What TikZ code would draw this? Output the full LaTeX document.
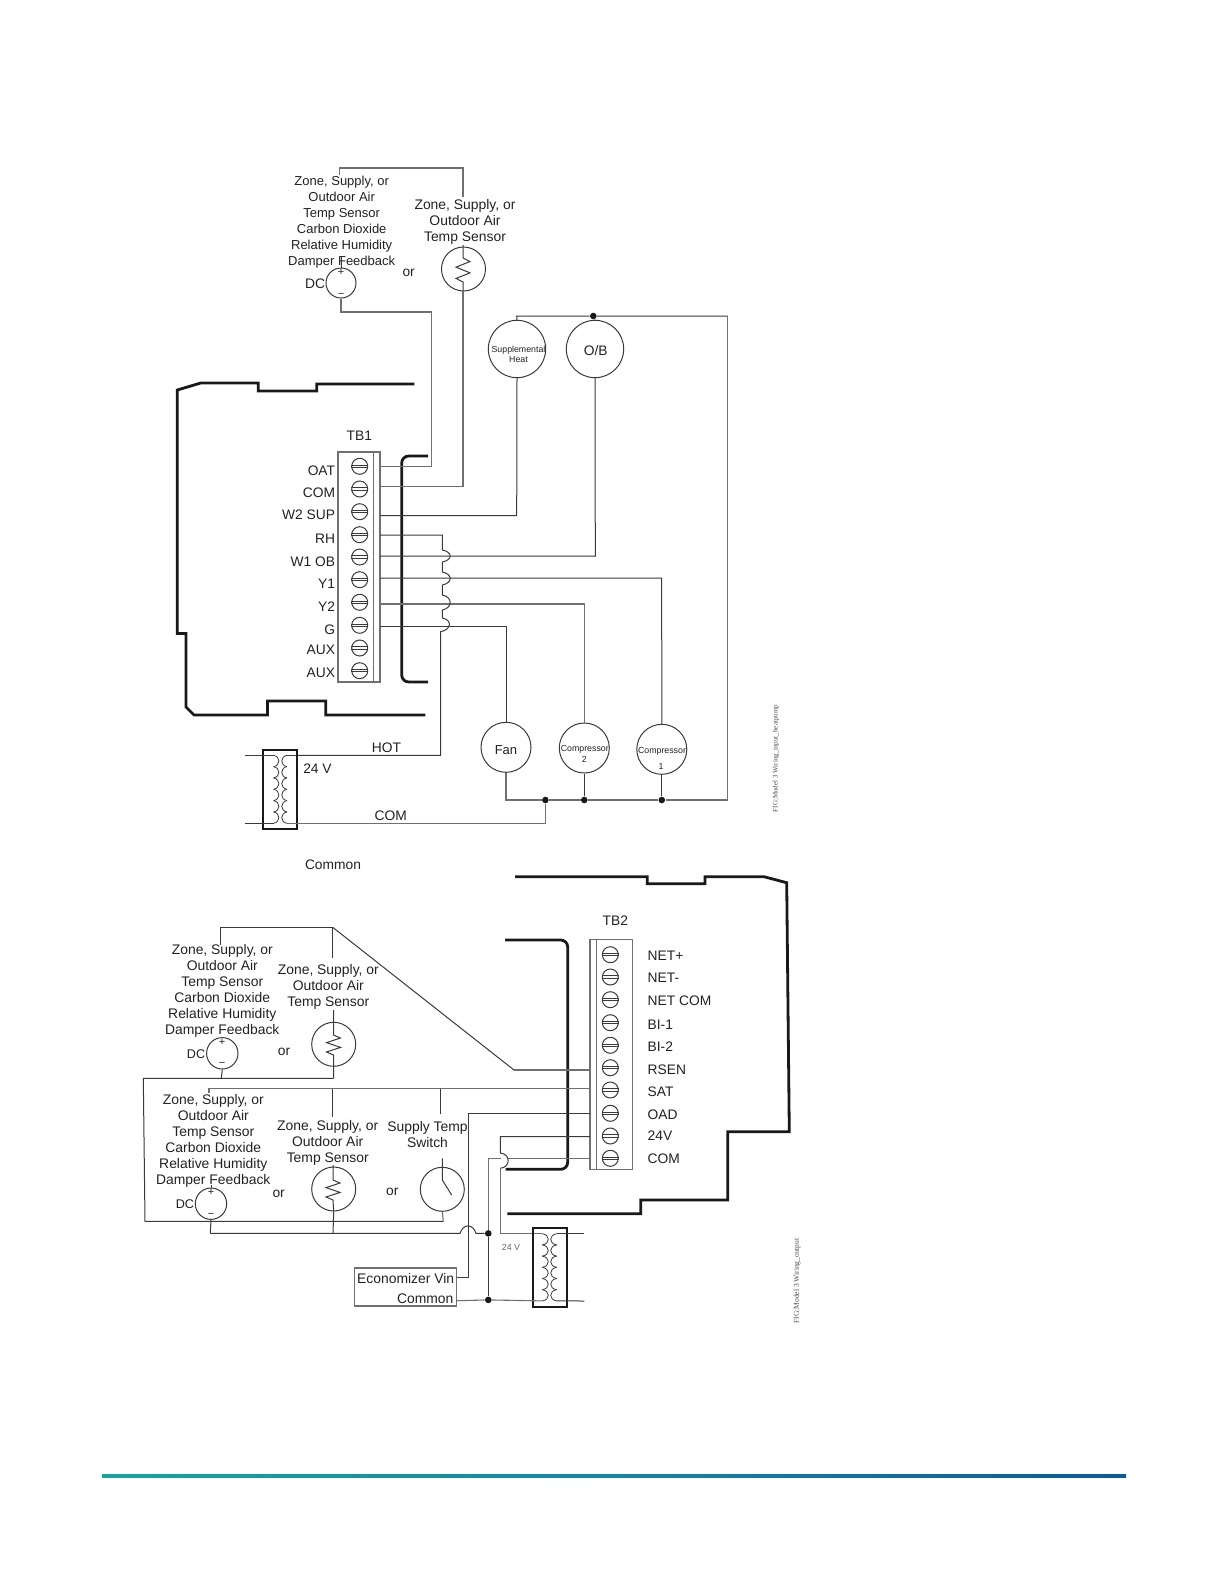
\documentclass[tikz,border=0pt]{standalone}
\usepackage{fontspec}
\setmainfont{Liberation Sans}
\newfontfamily\figfont{Liberation Serif}
\usetikzlibrary{calc}
\definecolor{wiredark}{HTML}{3A3A3A}
\definecolor{wiregray}{HTML}{707070}
\definecolor{ink}{HTML}{222222}
\definecolor{footL}{HTML}{12A79D}
\definecolor{footM}{HTML}{1585A8}
\definecolor{footR}{HTML}{0A5A9A}
\tikzset{
  wire/.style={draw=wiredark,line width=.5bp},
  gwire/.style={draw=wiregray,line width=.55bp},
  board/.style={draw=black!90,line width=1.4bp,line join=miter},
  bracket/.style={draw=black!90,line width=1.4bp,rounded corners=3.5bp},
  dev/.style={circle,draw=wiredark,line width=.5bp,inner sep=0pt,fill=none},
  screwhead/.style={circle,draw=wiredark,line width=.5bp,minimum size=8bp,inner sep=0pt},
  slot/.style={draw=wiredark,line width=.45bp},
  strip/.style={draw=wiregray,line width=.6bp},
  dotc/.style={circle,fill=black!90,inner sep=0pt,minimum size=3.3bp},
  xbox/.style={draw=black!90,line width=.9bp},
  coil/.style={draw=wiredark,line width=.4bp},
  blocktxt/.style={align=center,inner sep=0pt,anchor=north,text=ink},
  sm/.style={blocktxt,font=\fontsize{6.5bp}{8bp}\selectfont},
  md/.style={blocktxt,font=\fontsize{6.95bp}{8bp}\selectfont},
  lab/.style={inner sep=0pt,text=ink,font=\fontsize{6.9bp}{8bp}\selectfont,text height=5bp,text depth=0pt},
  labr/.style={lab,anchor=east},
  labl/.style={lab,anchor=west},
  tiny/.style={inner sep=0pt,text=ink,font=\fontsize{4.4bp}{5bp}\selectfont,text height=3.2bp,text depth=0pt},
  pm/.style={tiny,font=\fontsize{5.5bp}{6bp}\selectfont},
  figtxt/.style={inner sep=0pt,rotate=90,text=black!70},
}
\begin{document}
\begin{tikzpicture}[x=.5bp,y=-.5bp]
\useasboundingbox (0,0) rectangle (1224,1584);
\fill[white] (0,0) rectangle (1224,1584);

%%%%% upper diagram: board outline
\draw[board] (414.3,384)--(316.7,384)--(316.7,391)--(258.3,391)--(258.3,383)--(200.7,383)--(177.3,390)
  --(177.3,633.5)--(186,633.5)--(186,707)--(194,715)--(267.5,715)--(267.5,701)--(325.7,701)--(325.7,715)--(425.4,715);
\draw[bracket] (428,456)--(401.7,456)--(401.7,682)--(428,682);

%%%%% TB1
\node[lab] (tb1) at (359.3,435) {TB1};
\draw[strip] (338,452) rectangle (380,682);
\draw[strip] (373.3,452)--(373.3,682);
\foreach \i/\y/\t/\ly in {1/466.3/OAT/470,2/489/COM/492,3/511.7/W2 SUP/514,4/534.7/RH/538,5/557/W1 OB/561,6/579.7/Y1/583,7/602.3/Y2/606,8/625.3/G/629,9/648/AUX/649,10/670.7/AUX/672}{
  \node[screwhead] (a\i) at (359.7,\y) {};
  \draw[slot] ([yshift=.6bp]a\i.west)--([yshift=.6bp]a\i.east);
  \draw[slot] ([yshift=-.6bp]a\i.west)--([yshift=-.6bp]a\i.east);
  \node[labr] (al\i) at (335.5,\ly) {\t};
}
\foreach \i/\y in {1/466.7,2/486.7,3/515.7,4/535,5/556,6/578,7/604,8/626.3}{
  \coordinate (ta\i) at (380,\y);
}

%%%%% upper sensors
\node[dev,minimum size=15bp] (dcU) at (341,283) {};
\node[sm] (txU1) at (341.7,175.3) {Zone, Supply, or\\Outdoor Air\\Temp Sensor\\Carbon Dioxide\\Relative Humidity\\Damper Feedback};
\node[md] (txU2) at (465,199) {Zone, Supply, or\\Outdoor Air\\Temp Sensor};
\node[lab] (dcUl) at (315,283.3) {DC};
\node[pm] (dcUp) at (341,272) {+};
\node[pm] (dcUm) at (341,294) {\textminus};
\node[lab] (orU) at (408.7,271.7) {or};
\node[dev,minimum size=22bp] (thU) at (463.5,269) {};
\draw[wire] (463,245)--(463,258)--(470,261.6)--(456,267.1)--(470,272.9)--(456,278.4)--(463,282)--(463,291);
\coordinate (u1) at (339.3,175);
\coordinate (u2) at (463,197);
\draw[gwire] (u1)--(339.3,168)--(463,168)--(u2);
\draw[wire] (341,257)--(dcU.north);
\draw[gwire] (dcU.south)--(341,312)--(431.7,312)--(431.7,466.7)--(ta1);
\draw[gwire] (463,291)--(463,486.7)--(ta2);

%%%%% upper loads
\node[dev,minimum size=28.7bp] (sup) at (517,349) {};
\node[inner sep=0pt,text=ink,font=\fontsize{4.4bp}{5bp}\selectfont,align=center] (supt) at (518.5,354.5) {Supplemental\\Heat};
\node[dev,minimum size=28.7bp] (ob) at (595,349) {};
\node[lab] (obt) at (595.7,350) {O/B};
\node[dev,minimum size=25bp] (fan) at (506,747.3) {};
\node[lab,font=\fontsize{6.5bp}{8bp}\selectfont] (fant) at (506,749.3) {Fan};
\node[dev,minimum size=25bp] (cp2) at (584.3,748) {};
\node[tiny] (cp2t) at (584.8,748.7) {Compressor};
\node[tiny] (cp2n) at (584.3,759) {2};
\node[dev,minimum size=25bp] (cp1) at (661.8,749.3) {};
\node[tiny] (cp1t) at (662,750.3) {Compressor};
\node[tiny] (cp1n) at (661,766.7) {1};

\node[dotc] (dTop) at (593.3,316) {};
\coordinate (busR) at (727.8,316);
\draw[wire] (sup.north)--(516.7,316)--(dTop)--(busR);
\draw[wire] (dTop)--(ob.north);
\node[dotc] (dC) at (545.4,800) {};
\node[dotc] (dB2) at (584.3,800) {};
\node[dotc] (dB1) at (661.8,800) {};
\coordinate (busL) at (506,800);
\draw[gwire] (busR)--(727.8,800)--(dB1)--(dB2)--(dC)--(busL)--(fan.south);
\draw[wire] (cp2.south)--(dB2);
\draw[wire] (cp1.south)--(dB1);

\draw[wire] (ta3)--(516.7,515.7)--(sup.south);
\draw[wire] (ta5)--(595.3,556)--(ob.south);
\draw[wire] (ta6)--(661.7,578)--(cp1.north);
\draw[gwire] (ta7)--(584.3,604)--(cp2.north);
\draw[wire] (ta8)--(506,626.3)--(fan.north);

%%%%% HOT strap with humps
\coordinate (hotEnd) at (296,755.3);
\draw[wire] (ta4)--(442.3,535)--(442.3,550) .. controls +(10.5,2) and +(10.5,-2) .. (442.3,562)
  --(442.3,572) .. controls +(10.5,2) and +(10.5,-2) .. (442.3,585)
  --(442.3,595) .. controls +(10.5,2) and +(10.5,-2) .. (442.3,610)
  --(442.3,618) .. controls +(10.5,2) and +(10.5,-2) .. (440.7,631.7)
  --(440.7,755.3)--(hotEnd);

%%%%% upper transformer
\draw[xbox] (263.2,750) rectangle (296.8,829);
\foreach \k in {0,...,5}{
  \draw[coil] (273.6,755.3+\k*11.33) .. controls +(7,1.2) and +(7,-1.2) .. (273.6,755.3+\k*11.33+11.33);
  \draw[coil] (287,755.3+\k*11.33) .. controls +(-7,1.2) and +(-7,-1.2) .. (287,755.3+\k*11.33+11.33);
}
\coordinate (xuA) at (245,755.3); \coordinate (xuB) at (245,823.3);
\draw[wire] (xuA)--(273.6,755.3);
\draw[wire] (xuB)--(273.6,823.3);
\draw[wire] (287,755.3)--(hotEnd);
\draw[gwire] (287,823.3)--(545.4,823.3)--(dC);
\node[lab] (hot) at (386.4,747.3) {HOT};
\node[lab] (v24) at (317.5,768.3) {24 V};
\node[lab] (com) at (390.7,815.3) {COM};
\node[lab] (cmn) at (333,864.7) {Common};
\node[figtxt,font=\figfont\fontsize{3.5bp}{4bp}\selectfont] (fig1) at (776,758.5) {FIG:Model 3 Wiring\_input\_heatpump};

%%%%% lower diagram: board outline
\draw[board] (515,876.7)--(647.3,876.7)--(647.3,883.7)--(705,883.7)--(705,876.7)--(764,876.7)--(786.7,882.7)
  --(789.3,1131.7)--(727.7,1131.7)--(727.7,1200)--(640.7,1200)--(640.7,1213.7)--(507.3,1213.7);
\draw[bracket] (505,940)--(567.7,940)--(567.7,1169.3)--(505.7,1169.3);

%%%%% TB2
\node[lab] (tb2) at (615.3,920.3) {TB2};
\draw[strip] (590,939.7) rectangle (632.3,1169.3);
\draw[strip] (596.3,939.7)--(596.3,1169.3);
\foreach \i/\y/\t/\ly in {1/954.7/NET+/955,2/977/NET-/977.7,3/999.7/NET COM/1000,4/1022.7/BI-1/1024,5/1045.3/BI-2/1046,6/1067.7/RSEN/1069.7,7/1090/SAT/1091.7,8/1113.3/OAD/1114.3,9/1136/24V/1135,10/1158.3/COM/1158.7}{
  \node[screwhead] (b\i) at (610.3,\y) {};
  \draw[slot] ([yshift=.6bp]b\i.west)--([yshift=.6bp]b\i.east);
  \draw[slot] ([yshift=-.6bp]b\i.west)--([yshift=-.6bp]b\i.east);
  \node[labl] (bl\i) at (647.3,\ly) {\t};
}
\coordinate (tRS) at (590,1070);
\coordinate (tSA) at (590,1088.5);
\coordinate (tOA) at (590,1113.3);
\coordinate (t24) at (590,1136.7);
\coordinate (tCO) at (590,1158.7);

%%%%% lower sensor groups
\node[md] (txL1) at (222.3,944.3) {Zone, Supply, or\\Outdoor Air\\Temp Sensor\\Carbon Dioxide\\Relative Humidity\\Damper Feedback};
\node[md] (txL2) at (328.3,964.3) {Zone, Supply, or\\Outdoor Air\\Temp Sensor};
\node[md] (txL3) at (213.3,1094) {Zone, Supply, or\\Outdoor Air\\Temp Sensor\\Carbon Dioxide\\Relative Humidity\\Damper Feedback};
\node[md] (txL4) at (327.7,1120) {Zone, Supply, or\\Outdoor Air\\Temp Sensor};
\node[md] (txL5) at (427.5,1121) {Supply Temp\\Switch};

\node[dev,minimum size=15.7bp] (dc1) at (222.3,1053.3) {};
\node[pm] (dc1p) at (222,1042.7) {+};
\node[pm] (dc1m) at (222,1063.7) {\textminus};
\node[lab,font=\fontsize{6.3bp}{8bp}\selectfont] (dc1l) at (196,1053.7) {DC};
\node[lab] (or1) at (284,1050.3) {or};
\node[dev,minimum size=22bp] (th1) at (333.7,1044.3) {};
\node[dev,minimum size=15.7bp] (dc2) at (211,1203.7) {};
\node[pm] (dc2p) at (211,1192.7) {+};
\node[pm] (dc2m) at (211,1214) {\textminus};
\node[lab,font=\fontsize{6.3bp}{8bp}\selectfont] (dc2l) at (185,1203.7) {DC};
\node[lab] (or2) at (278.7,1192.3) {or};
\node[dev,minimum size=22bp] (th2) at (333.7,1189) {};
\node[lab] (or3) at (392.3,1190) {or};
\node[dev,minimum size=22bp] (sw) at (442.3,1189.3) {};

% resistors
\draw[wire] (333.5,1010)--(333.5,1035)--(340.5,1038)--(326.5,1042.6)--(340.5,1047.4)--(326.5,1052)--(333.5,1055)--(th1.south);
\draw[wire] (333,1165)--(333,1180)--(340,1183)--(326,1187.6)--(340,1192.4)--(326,1197)--(333,1200)--(th2.south);
% switch
\draw[wire] (442.3,1158.3)--(442.3,1180)--(451.7,1195);

% lower wiring
\coordinate (wA) at (220.7,945);
\coordinate (wB) at (332.7,958.3);
\coordinate (wJ) at (332.7,927.3);
\draw[wire] (wA)--(220.7,927.3)--(wJ)--(wB);
\draw[wire] (wJ)--(514,1070);
\draw[gwire] (514,1070)--(tRS);
\draw[wire] (222.3,1036.7)--(dc1.north);
\draw[wire] (dc1.south)--(221.3,1078.3);
\draw[wire] (th1.south)--(333.5,1078.3);
\coordinate (wC) at (143.3,1078.3);
\draw[wire] (333.5,1078.3)--(wC)--(145,1221.3)--(443.3,1221.3);
\draw[gwire] (sw.south)--(443.3,1221.3);

\coordinate (wD) at (209,1093);
\coordinate (wE) at (332.7,1116.7);
\coordinate (wF) at (440,1114.3);
\draw[gwire] (wD)--(209,1088.5)--(tSA);
\draw[wire] (332.7,1088.5)--(wE);
\draw[wire] (440,1088.5)--(wF);
\draw[wire] (211,1185)--(dc2.north);
\coordinate (wG) at (210.3,1233.4);
\draw[wire] (dc2.south)--(wG);
\draw[wire] (th2.south)--(333,1233.4);

% economizer box
\node[draw=wiregray,line width=.55bp,minimum width=51bp,minimum height=19bp,inner sep=0pt] (eco) at (405.6,1287) {};
\node[labr,font=\fontsize{6.95bp}{8bp}\selectfont] (ecoV) at (454.6,1278) {Economizer Vin};
\node[labr,font=\fontsize{6.95bp}{8bp}\selectfont] (ecoC) at (453.8,1298) {Common};

\node[dotc] (dE1) at (488.3,1233.4) {};
\node[dotc] (dE2) at (488.3,1299.9) {};
\draw[wire] (wG)--(460,1233.4) .. controls +(3,-10) and +(-3,-10) .. (476,1233.4)--(dE1);
\draw[wire] (tOA)--(468.3,1113.3)--(468.3,1277.7)--(eco.east|-468.3,1277.7);
\draw[gwire] (tCO)--(507.7,1158.7);
\draw[wire] (dE1)--(dE2);
\draw[gwire] (488.3,1158.7)--(dE1);
\draw[gwire] (488.3,1158.7)--(500.5,1158.7);
% 24 V wire humped over the COM wire
\coordinate (x2A) at (542.3,1233.7);
\draw[wire] (t24)--(500.3,1136.7)--(500.3,1153) .. controls +(10.5,1) and +(10.5,-1) .. (500.3,1168.3);
\draw[gwire] (500.3,1168.3)--(500.3,1233.7)--(x2A);

% lower transformer
\draw[xbox] (533.3,1228.3) rectangle (566.7,1307.3);
\foreach \k in {0,...,5}{
  \draw[coil] (542.3,1233.7+\k*11.2) .. controls +(8,1.1) and +(8,-1.1) .. (542.3,1233.7+\k*11.2+11.2);
  \draw[coil] (556.7,1233.7+\k*11.2) .. controls +(-8,1.1) and +(-8,-1.1) .. (556.7,1233.7+\k*11.2+11.2);
}
\coordinate (x2R1) at (584.3,1233.7);
\coordinate (x2R2) at (584.3,1301);
\draw[wire] (556.7,1233.7)--(x2R1);
\draw[wire] (556.7,1300.9)--(x2R2);
\draw[gwire] (eco.east|-456,1300.7)--(dE2)--(542.3,1300.9);
\node[tiny,text=black!60] (v24b) at (511,1247.7) {24 V};
\node[figtxt,font=\figfont\fontsize{3.75bp}{4bp}\selectfont] (fig2) at (797,1281) {FIG:Model 3 Wiring\_output};

%%%%% footer rule
\shade[left color=footL,right color=footM,draw=none] (102,1474) rectangle (614,1477);
\shade[left color=footM,right color=footR,draw=none] (614,1474) rectangle (1126,1477);
\end{tikzpicture}
\end{document}
